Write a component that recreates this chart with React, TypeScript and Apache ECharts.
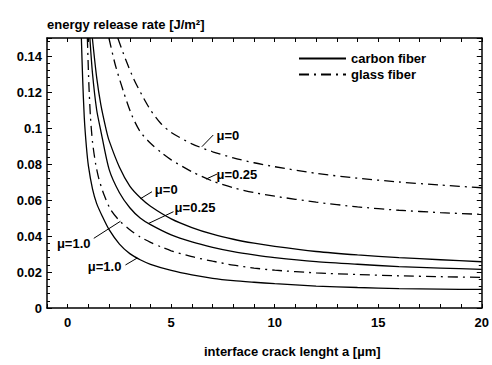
import React, { useEffect, useRef } from "react";
import * as echarts from "echarts";

// x: interface crack length a [µm], y: energy release rate [J/m²]
const carbonMu0: [number, number][] = [
  [1.19, 0.15], [1.4, 0.128], [1.6, 0.113], [1.86, 0.099], [2, 0.093], [2.5, 0.0782], [3, 0.0677],
  [3.51, 0.0612], [4, 0.0565], [5, 0.0495], [6, 0.0447], [7, 0.041], [8, 0.0382], [9, 0.036],
  [10, 0.0342], [12, 0.0314], [14, 0.0295], [16, 0.028], [18, 0.0268], [20, 0.0257],
];
const carbonMu025: [number, number][] = [
  [1.07, 0.15], [1.2, 0.13], [1.4, 0.11], [1.59, 0.099], [2, 0.077], [2.5, 0.064], [3, 0.0557],
  [3.5, 0.05], [4, 0.0463], [5, 0.0406], [6, 0.0367], [7, 0.0337], [8, 0.0313], [9, 0.0295],
  [10, 0.028], [12, 0.0258], [14, 0.0243], [16, 0.023], [18, 0.0222], [20, 0.0215],
];
const carbonMu1: [number, number][] = [
  [0.66, 0.15], [0.72, 0.128], [0.8, 0.106], [0.9, 0.09], [1.0, 0.079], [1.2, 0.066], [1.4, 0.058],
  [1.67, 0.051], [2, 0.0435], [2.5, 0.0355], [3, 0.0302], [3.5, 0.0268], [4, 0.0243], [5, 0.0209],
  [6, 0.0184], [7, 0.0165], [8, 0.0152], [9, 0.0143], [10, 0.0135], [12, 0.0122], [14, 0.0114],
  [16, 0.0108], [18, 0.0105], [20, 0.0103],
];
const glassMu0: [number, number][] = [
  [2.42, 0.15], [2.8, 0.138], [3.2, 0.127], [3.6, 0.118], [4, 0.11], [4.5, 0.1025], [5, 0.0975],
  [6, 0.0912], [7, 0.0868], [8, 0.0834], [9, 0.0807], [10, 0.0785], [12, 0.0748], [14, 0.0721],
  [16, 0.07], [18, 0.0683], [20, 0.0668],
];
const glassMu025: [number, number][] = [
  [1.99, 0.15], [2.3, 0.135], [2.7, 0.12], [3.1, 0.107], [3.5, 0.098], [4, 0.0915], [4.5, 0.0865],
  [5, 0.0823], [6, 0.0757], [7, 0.0705], [8, 0.0668], [9, 0.0641], [10, 0.0621], [12, 0.0588],
  [14, 0.0562], [16, 0.0543], [18, 0.053], [20, 0.052],
];
const glassMu1: [number, number][] = [
  [0.95, 0.15], [1.02, 0.125], [1.1, 0.106], [1.2, 0.092], [1.35, 0.08], [1.5, 0.072], [1.75, 0.063],
  [2.07, 0.0548], [2.5, 0.0485], [3, 0.0435], [3.5, 0.0395], [4, 0.0365], [4.5, 0.034], [5, 0.0318],
  [6, 0.0285], [7, 0.026], [8, 0.0238], [9, 0.0222], [10, 0.021], [12, 0.0195], [14, 0.0186],
  [16, 0.0179], [18, 0.0174], [20, 0.017],
];

const legendNames = ["carbon fiber", "glass fiber"];

// annotations (data coordinates)
const annotLabels = ["μ=0", "μ=0.25", "μ=0", "μ=0.25", "μ=1.0", "μ=1.0"];
const annotTextPos: [number, number][] = [
  [7.74, 0.0956], [8.17, 0.0739], [4.76, 0.0656], [6.15, 0.0556], [0.29, 0.0361], [1.78, 0.0233],
];
const annotLeaders: [number, number][][] = [
  [[7.03, 0.0961], [6.48, 0.0896]],
  [[7.21, 0.0744], [6.68, 0.0716]],
  [[4.07, 0.0646], [3.51, 0.0607]],
  [[5.11, 0.0535], [3.91, 0.047]],
  [[1.26, 0.0387], [2.55, 0.0482]],
  [[2.79, 0.0239], [3.35, 0.0277]],
];

const xTitle = "interface crack lenght a [µm]";
const yTitle = "energy release rate [J/m²]";

const FONT = "'Liberation Sans', Arial, sans-serif";
const dashDot = [10, 5, 2, 5];

export default function App() {
  const ref = useRef<HTMLDivElement>(null);
  useEffect(() => {
    const chart = echarts.init(ref.current!, undefined, { renderer: "svg" });
    const lineBase = {
      type: "line",
      symbol: "none",
      smooth: 0.25,
      silent: true,
      itemStyle: { color: "#000" },
    };
    const solid = { color: "#000", width: 1.3, type: "solid" };
    const dd = { color: "#000", width: 1.3, type: dashDot };
    const axisLine = { show: true, onZero: false, lineStyle: { color: "#000", width: 1.5 } };
    const xCommon = {
      type: "value",
      min: -1,
      max: 20,
      interval: 1,
      splitLine: { show: false },
      axisLine,
      axisTick: { show: true, inside: true, length: 4, lineStyle: { color: "#000", width: 1 } },
    };
    const yCommon = {
      type: "value",
      min: 0,
      max: 0.15,
      interval: 0.02,
      splitLine: { show: false },
      axisLine,
      axisTick: { show: true, inside: true, length: 5, lineStyle: { color: "#000", width: 1 } },
      minorTick: { show: true, splitNumber: 5, length: 3, lineStyle: { color: "#000", width: 1 } },
    };
    const option: any = {
      animation: false,
      grid: { left: 47, right: 10, top: 38, bottom: 57, containLabel: false },
      legend: {
        data: legendNames,
        orient: "vertical",
        left: 293,
        top: 47,
        itemWidth: 47,
        itemHeight: 14,
        itemGap: 3,
        itemStyle: { opacity: 0 },
        textStyle: { fontFamily: FONT, fontWeight: "bold", fontSize: 13, color: "#000" },
        selectedMode: false,
      },
      xAxis: [
        {
          ...xCommon,
          position: "bottom",
          axisLabel: {
            show: true,
            margin: 8,
            fontFamily: FONT,
            fontWeight: "bold",
            fontSize: 13,
            color: "#000",
            formatter: (v: number) => (Math.round(v) % 5 === 0 ? String(Math.round(v)) : ""),
          },
        },
        { ...xCommon, position: "top", axisLabel: { show: false } },
      ],
      yAxis: [
        {
          ...yCommon,
          position: "left",
          axisLabel: {
            show: true,
            margin: 5,
            showMaxLabel: false,
            fontFamily: FONT,
            fontWeight: "bold",
            fontSize: 13,
            color: "#000",
          },
        },
        { ...yCommon, position: "right", axisLabel: { show: false } },
      ],
      graphic: [
        {
          type: "text",
          left: 47,
          top: 18,
          style: { text: yTitle, font: `bold 13px ${FONT}`, fill: "#000" },
        },
        {
          type: "text",
          left: 204,
          top: 345,
          style: { text: xTitle, font: `bold 13px ${FONT}`, fill: "#000" },
        },
      ],
      series: [
        { ...lineBase, name: "carbon fiber", data: carbonMu0, lineStyle: solid },
        { ...lineBase, name: "carbon fiber", data: carbonMu025, lineStyle: solid },
        { ...lineBase, name: "carbon fiber", data: carbonMu1, lineStyle: solid },
        { ...lineBase, name: "glass fiber", data: glassMu0, lineStyle: dd },
        { ...lineBase, name: "glass fiber", data: glassMu025, lineStyle: dd },
        { ...lineBase, name: "glass fiber", data: glassMu1, lineStyle: dd },
        ...annotLeaders.map((seg) => ({
          type: "line",
          symbol: "none",
          silent: true,
          data: seg,
          lineStyle: { color: "#000", width: 1 },
        })),
        {
          type: "scatter",
          silent: true,
          symbolSize: 1,
          itemStyle: { color: "#fff", opacity: 0 },
          data: annotTextPos.map((p, i) => ({ name: annotLabels[i], value: p })),
          label: {
            show: true,
            position: "inside",
            formatter: (p: any) => p.name,
            fontFamily: FONT,
            fontWeight: "bold",
            fontSize: 13,
            color: "#000",
            opacity: 1,
            textBorderWidth: 0,
            textShadowBlur: 0,
          },
        },
      ],
    };
    chart.setOption(option);
    return () => chart.dispose();
  }, []);
  return (
    <div
      ref={ref}
      style={{ position: "fixed", left: 0, top: 0, width: 492, height: 365, background: "#fff" }}
    />
  );
}
